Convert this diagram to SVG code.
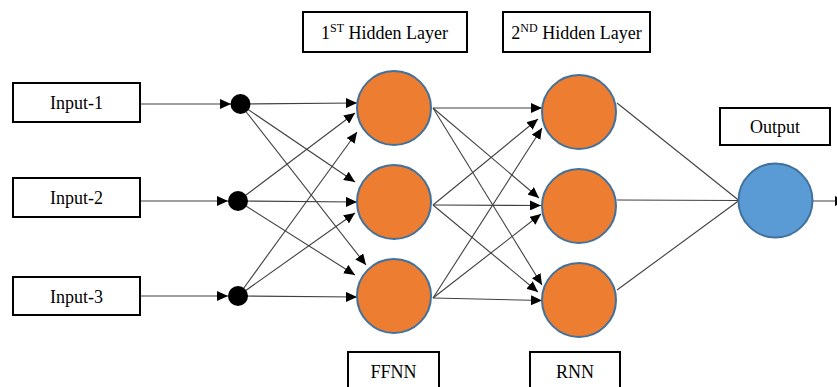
<svg xmlns="http://www.w3.org/2000/svg" width="837" height="387" viewBox="0 0 837 387">
<defs>
<style>
.box{fill:#fff;stroke:#000;stroke-width:2}
.c{stroke:#404040;stroke-width:1.1;fill:none}
.a{marker-end:url(#ah)}
.hid{fill:#ED7D31;stroke:#41719C;stroke-width:2}
.out{fill:#5B9BD5;stroke:#41719C;stroke-width:2}
.dot{fill:#000}
</style>
<marker id="ah" markerUnits="userSpaceOnUse" markerWidth="11" markerHeight="10" refX="11" refY="5" orient="auto">
<path d="M0,0 L11,5 L0,10 z" fill="#000"/>
</marker>
</defs>
<rect width="837" height="387" fill="#fff"/>
<g id="connectors">
<line class="c a" x1="141" y1="104" x2="231" y2="104"/>
<line class="c a" x1="141" y1="201" x2="228" y2="201"/>
<line class="c a" x1="141" y1="296" x2="228" y2="296"/>
<line class="c a" x1="240" y1="104" x2="357" y2="103"/>
<line class="c a" x1="240" y1="104" x2="355" y2="182"/>
<line class="c a" x1="240" y1="104" x2="366" y2="265"/>
<line class="c a" x1="238" y1="201" x2="355" y2="113"/>
<line class="c a" x1="238" y1="201" x2="357" y2="202"/>
<line class="c a" x1="238" y1="201" x2="355" y2="275"/>
<line class="c a" x1="238" y1="296" x2="357" y2="132"/>
<line class="c a" x1="238" y1="296" x2="355" y2="213"/>
<line class="c a" x1="238" y1="296" x2="357" y2="297"/>
<line class="c a" x1="433" y1="108" x2="542" y2="108"/>
<line class="c a" x1="433" y1="108" x2="539" y2="198"/>
<line class="c a" x1="433" y1="108" x2="542" y2="285"/>
<line class="c a" x1="433" y1="205" x2="538" y2="119"/>
<line class="c a" x1="433" y1="205" x2="541" y2="205.5"/>
<line class="c a" x1="433" y1="205" x2="538" y2="292"/>
<line class="c a" x1="433" y1="298" x2="542" y2="128"/>
<line class="c a" x1="433" y1="298" x2="541" y2="214"/>
<line class="c a" x1="433" y1="298" x2="542" y2="300.5"/>
<line class="c" x1="617" y1="103" x2="739" y2="200.5"/>
<line class="c" x1="617" y1="200" x2="739" y2="200.5"/>
<line class="c" x1="617" y1="290" x2="739" y2="200.5"/>
<line class="c a" x1="812" y1="201" x2="846" y2="201"/>
</g>
<g font-family="Liberation Serif, Times New Roman, DejaVu Serif, serif" font-size="18" fill="#000" text-anchor="middle">
<g id="input1"><rect class="box" x="13" y="83" width="127" height="39"/><text x="76.5" y="109">Input-1</text></g>
<g id="input2"><rect class="box" x="13" y="178" width="127" height="39"/><text x="76.5" y="204">Input-2</text></g>
<g id="input3"><rect class="box" x="13" y="277" width="127" height="38"/><text x="76.5" y="302.5">Input-3</text></g>
<g id="label-hidden1"><rect class="box" x="303" y="12" width="164" height="40"/><text x="384.5" y="39">1<tspan font-size="12" dy="-7">ST</tspan><tspan dy="7"> Hidden Layer</tspan></text></g>
<g id="label-hidden2"><rect class="box" x="503" y="12" width="147" height="40"/><text x="576.5" y="39">2<tspan font-size="12" dy="-7">ND</tspan><tspan dy="7"> Hidden Layer</tspan></text></g>
<g id="label-output"><rect class="box" x="720" y="108" width="110" height="37"/><text x="775" y="133">Output</text></g>
<g id="label-ffnn"><rect class="box" x="348" y="352" width="91" height="45"/><text x="393.5" y="377.5">FFNN</text></g>
<g id="label-rnn"><rect class="box" x="530" y="352" width="90" height="45"/><text x="575" y="377.5">RNN</text></g>
</g>
<g id="dot1"><circle class="dot" cx="240.5" cy="104" r="10"/></g>
<g id="dot2"><circle class="dot" cx="238" cy="201" r="10"/></g>
<g id="dot3"><circle class="dot" cx="238" cy="296" r="10"/></g>
<g id="h1a"><circle class="hid" cx="394" cy="108" r="37"/></g>
<g id="h1b"><circle class="hid" cx="394" cy="202" r="37"/></g>
<g id="h1c"><circle class="hid" cx="394" cy="296" r="37"/></g>
<g id="h2a"><circle class="hid" cx="579" cy="112" r="37"/></g>
<g id="h2b"><circle class="hid" cx="579" cy="206" r="37"/></g>
<g id="h2c"><circle class="hid" cx="579" cy="300" r="37"/></g>
<g id="output"><circle class="out" cx="775.5" cy="200.5" r="37"/></g>
</svg>
